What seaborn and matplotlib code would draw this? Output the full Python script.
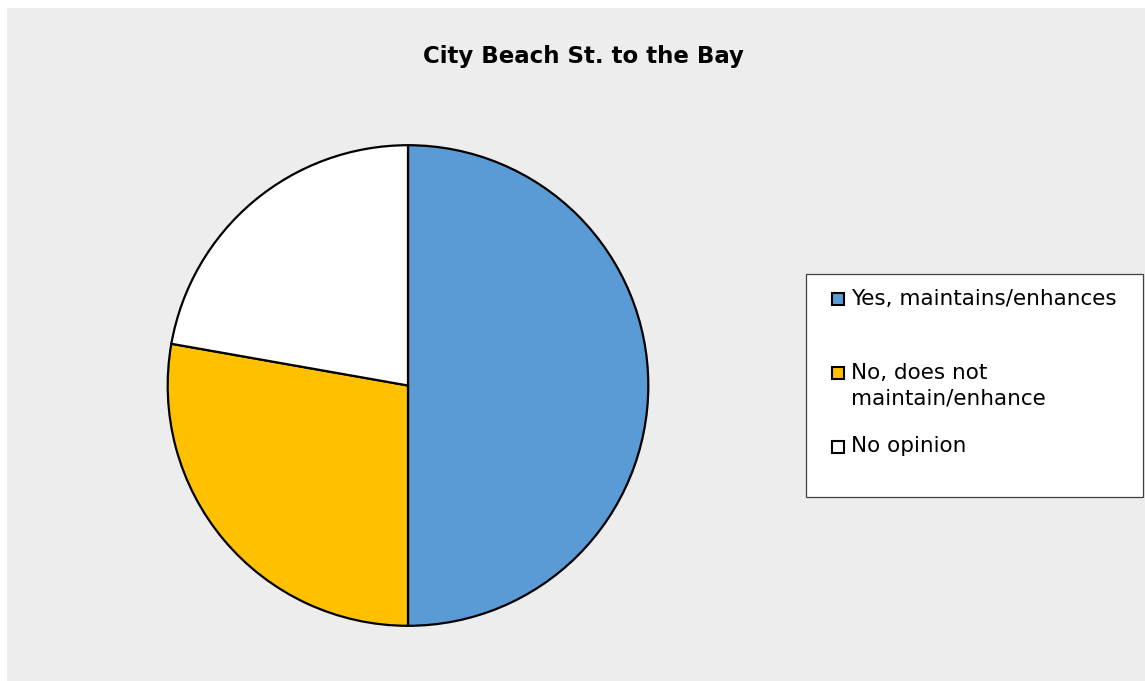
import matplotlib.pyplot as plt
import seaborn as sns
from matplotlib.patches import Rectangle

# survey answers (counts)
labels = ["Yes, maintains/enhances", "No, does not\nmaintain/enhance", "No opinion"]
values = [18, 10, 8]
colors = ["#5B9BD5", "#FFC000", "#FFFFFF"]
title = "City Beach St. to the Bay"

W, H = 1145, 681


def main():
    sns.set_style("white")
    plt.rcParams['font.family'] = ['DejaVu Sans']

    fig = plt.figure(figsize=(W / 100, H / 100), dpi=100)
    fig.patch.set_facecolor("white")

    # gray chart area
    fig.patches.append(Rectangle((7 / W, 0), 1 - 7 / W, 1 - 8 / H,
                                 transform=fig.transFigure, facecolor="#EDEDED",
                                 edgecolor="none", zorder=-5))

    # pie axes: center (408, 385), radius 241 px
    cx, cy, r = 408, 385.5, 241.5
    ax = fig.add_axes([(cx - r) / W, (H - cy - r) / H, 2 * r / W, 2 * r / H])
    ax.set_facecolor("none")
    ax.pie(values, colors=colors, startangle=90, counterclock=False,
           wedgeprops=dict(edgecolor="black", linewidth=1.6))
    ax.set_aspect("equal")
    ax.set_xlim(-1.005, 1.005)
    ax.set_ylim(-1.005, 1.005)
    ax.axis("off")

    fig.text(583 / W, 1 - 57 / H, title, ha="center", va="center",
             fontsize=16.5, fontweight="bold", color="black")

    # legend box
    fig.patches.append(Rectangle((806 / W, 1 - 497 / H), (1143 - 806) / W, (497 - 274) / H,
                                 transform=fig.transFigure, facecolor="white",
                                 edgecolor="#404040", linewidth=0.9, zorder=1))
    ys = [298.5, 373, 446.5]
    for lab, col, y in zip(labels, colors, ys):
        fig.patches.append(Rectangle((832 / W, 1 - (y + 6) / H), 12 / W, 12 / H,
                                     transform=fig.transFigure, facecolor=col,
                                     edgecolor="black", linewidth=1.5, zorder=2))
        fig.text(851 / W, 1 - (y - 10) / H, lab, ha="left", va="top",
                 fontsize=15.5, linespacing=1.35, color="black", zorder=3)

    fig.savefig("out.png", dpi=100)
    plt.close(fig)


if __name__ == "__main__":
    main()
